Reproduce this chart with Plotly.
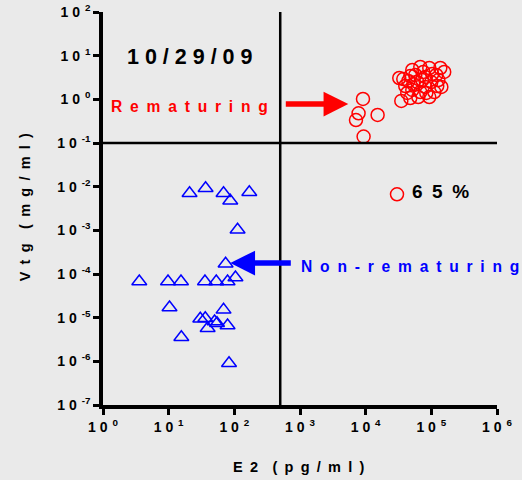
import plotly.graph_objects as go

# ---- data (E2 pg/ml, Vtg mg/ml) ----
remat_e2 = [3.25e4, 3.49e4, 4.78e4, 5.13e4, 6.79e4, 9.31e4, 1.37e5, 1.42e5, 9.31e4, 1.11e5,
            4.01e4, 6.11e4, 8.09e4, 1.19e5, 6.79e4, 5.13e4, 4.30e4, 3.74e4, 7.54e4, 9.98e4,
            5.70e4, 1.28e5, 8.09e4, 6.33e4, 4.46e4, 1.03e5, 1.57e5, 8.38e4, 5.31e4, 1.23e5,
            7.28e4, 4.78e4,
            9.10e3, 7.80e3, 7.12e3, 1.52e4, 9.30e3, 3.0e4]
remat_vtg = [3.08, 0.92, 1.07, 4.70, 5.50, 5.22, 5.22, 1.92, 1.13, 1.47,
             2.02, 2.49, 3.25, 3.61, 1.47, 1.64, 1.40, 2.92, 4.23, 2.49,
             3.61, 2.77, 1.92, 1.13, 2.63, 3.80, 4.23, 1.40, 2.24, 2.02,
             2.77, 3.42,
             1.02, 0.479, 0.336, 0.438, 0.140, 6.69e-3]

nonremat_e2 = [20.8, 36.5, 68.5, 86.7, 169, 112, 73.6, 104, 3.57, 9.77,
               15.4, 35.7, 53.1, 78.9, 10.3, 68.5, 30.3, 36.1, 50.0, 54.5,
               39.2, 78.9, 15.6, 83.0]
nonremat_vtg = [7.08e-3, 9.23e-3, 7.08e-3, 4.74e-3, 7.46e-3, 1.03e-3, 1.71e-4, 8.32e-5, 6.73e-5, 6.73e-5,
                6.73e-5, 6.73e-5, 6.73e-5, 6.73e-5, 1.71e-5, 1.51e-5, 9.42e-6, 9.73e-6, 8.17e-6, 7.46e-6,
                5.74e-6, 6.62e-6, 3.57e-6, 9.06e-7]

x_tickvals = [1, 10, 100, 1e3, 1e4, 1e5, 1e6]
x_exponents = ["0", "1", "2", "3", "4", "5", "6"]
y_tickvals = [1e-7, 1e-6, 1e-5, 1e-4, 1e-3, 1e-2, 1e-1, 1, 10, 100]
y_exponents = ["-7", "-6", "-5", "-4", "-3", "-2", "-1", "0", "1", "2"]

e2_cutoff = 500
vtg_cutoff = 0.1

FONT = "Liberation Sans, Arial, sans-serif"
BG = "#EAEAEA"
EN = "\u2002"


def tick_label(exp):
    return "1 0<sup>" + EN + exp + "</sup>"


def spaced(s, sep=EN):
    words = s.split(" ")
    return (sep + sep).join(sep.join(list(w)) for w in words)


fig = go.Figure()
fig.add_trace(go.Scatter(x=remat_e2, y=remat_vtg, mode="markers",
                         marker=dict(symbol="circle-open", size=13, color="#FF0000",
                                     line=dict(width=1.5, color="#FF0000")),
                         cliponaxis=False, showlegend=False, hoverinfo="skip"))
fig.add_trace(go.Scatter(x=nonremat_e2, y=nonremat_vtg, mode="markers",
                         marker=dict(symbol="triangle-up-open", size=13, color="#0000FF",
                                     line=dict(width=1.5, color="#0000FF")),
                         cliponaxis=False, showlegend=False, hoverinfo="skip"))

# quadrant lines
fig.add_shape(type="line", xref="x", yref="paper", x0=e2_cutoff, x1=e2_cutoff, y0=0, y1=1,
              line=dict(color="black", width=2.5))
fig.add_shape(type="line", xref="paper", yref="y", x0=0, x1=1, y0=vtg_cutoff, y1=vtg_cutoff,
              line=dict(color="black", width=2.5))

L, R, T, B = 102.7, 496.7, 12, 405
W, H = 522, 480


def px(x):
    return (x - L) / (R - L)


def py(y):
    return (B - y) / (B - T)


def label(text, x, y, size, color="black", angle=0):
    return dict(text="<b>" + text + "</b>", x=px(x), y=py(y), xref="paper", yref="paper",
                xanchor="center", yanchor="middle", showarrow=False, textangle=angle,
                font=dict(family=FONT, size=size, color=color))


ann = [
    label(spaced("10/29/09", " "), 190, 57, 21.5),
    label(spaced("Rematuring"), 189, 106, 15.6, "#FF0000"),
    label(spaced("Non-rematuring"), 410, 266, 15.6, "#0000FF"),
    label(spaced("65%"), 440, 191, 19),
    label(spaced("E2 (pg/ml)"), 298, 467, 14.5),
    label(spaced("Vtg (mg/ml)"), 25, 207, 14.5, angle=-90),
]
# arrows
ann.append(dict(text="", x=px(348), y=py(104), xref="paper", yref="paper",
                ax=-64, ay=0, showarrow=True, arrowhead=2, arrowwidth=5.5, arrowsize=0.9,
                arrowcolor="#FF0000"))
ann.append(dict(text="", x=px(230), y=py(263), xref="paper", yref="paper",
                ax=62, ay=0, showarrow=True, arrowhead=2, arrowwidth=5.5, arrowsize=0.9,
                arrowcolor="#0000FF"))

fig.update_layout(
    width=W, height=H,
    margin=dict(l=L, r=W - R, t=T, b=H - B, autoexpand=False),
    paper_bgcolor=BG, plot_bgcolor=BG,
    annotations=ann,
    hovermode=False,
    xaxis=dict(type="log", range=[0, 6], tickvals=x_tickvals,
               ticktext=[tick_label(e) for e in x_exponents],
               automargin=False,
               showgrid=False, zeroline=False, showline=True, linecolor="black", linewidth=3.5,
               ticks="outside", ticklen=6, tickwidth=3, tickcolor="black",
               tickfont=dict(family=FONT, size=14, color="black", weight="bold")),
    yaxis=dict(type="log", range=[-7, 2], tickvals=y_tickvals,
               ticktext=[tick_label(e) for e in y_exponents],
               automargin=False,
               showgrid=False, zeroline=False, showline=True, linecolor="black", linewidth=3.5,
               ticks="outside", ticklen=6, tickwidth=3, tickcolor="black",
               tickfont=dict(family=FONT, size=14, color="black", weight="bold")),
)

fig.write_html("out.html", config={"displayModeBar": False},
               post_script="document.body.style.margin='0';document.body.style.overflow='hidden';")
